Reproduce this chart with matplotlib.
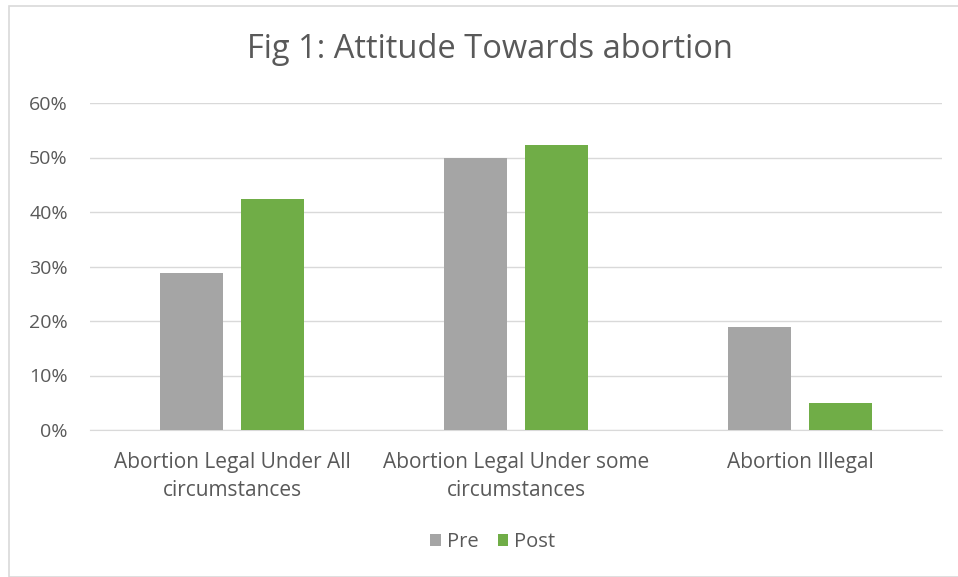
import numpy as np
import matplotlib.pyplot as plt
from matplotlib.patches import Rectangle
from matplotlib.ticker import PercentFormatter

categories = ["Abortion Legal Under All\ncircumstances",
              "Abortion Legal Under some\ncircumstances",
              "Abortion Illegal"]
pre = [28.8, 49.9, 18.9]
post = [42.4, 52.3, 5.0]

plt.rcParams['font.family'] = ['Open Sans', 'DejaVu Sans']
text_col = "#595959"

fig = plt.figure(figsize=(9.58, 5.77), dpi=100)
fig.patches.append(Rectangle((9 / 958, 0), 1, 1 - 6 / 577, transform=fig.transFigure,
                             fill=False, edgecolor="#d9d9d9", linewidth=1.2))
ax = fig.add_axes([90 / 958, 1 - 430 / 577, 852 / 958, 327 / 577])

x = np.arange(len(categories))
w = 0.222
ax.bar(x - 0.143, pre, w, color="#a5a5a5", label="Pre", zorder=3)
ax.bar(x + 0.143, post, w, color="#70ad47", label="Post", zorder=3)

ax.set_xlim(-0.5, 2.5)
ax.set_ylim(0, 60)
ax.set_yticks(np.arange(0, 61, 10))
ax.yaxis.set_major_formatter(PercentFormatter(decimals=0))
ax.grid(axis="y", color="#d9d9d9", linewidth=1, zorder=0)
for s in ["top", "right", "left"]:
    ax.spines[s].set_visible(False)
ax.spines["bottom"].set_color("#d9d9d9")
ax.tick_params(axis="both", length=0, colors=text_col)
ax.tick_params(axis="y", labelsize=14, pad=16)
ax.tick_params(axis="x", pad=16)
ax.set_xticks(x)
ax.set_xticklabels(categories, fontsize=15, color=text_col, linespacing=1.4)

fig.text(490 / 958, 1 - 50 / 577, "Fig 1: Attitude Towards abortion", ha="center", va="center",
         fontsize=23.5, color=text_col)
fig.legend(loc="center", bbox_to_anchor=(493 / 958, 1 - 542 / 577), ncol=2, frameon=False,
           fontsize=14.5, labelcolor=text_col, handlelength=0.5, handleheight=0.5,
           handletextpad=0.3, columnspacing=1.0)

fig.savefig("out.png", dpi=100)
